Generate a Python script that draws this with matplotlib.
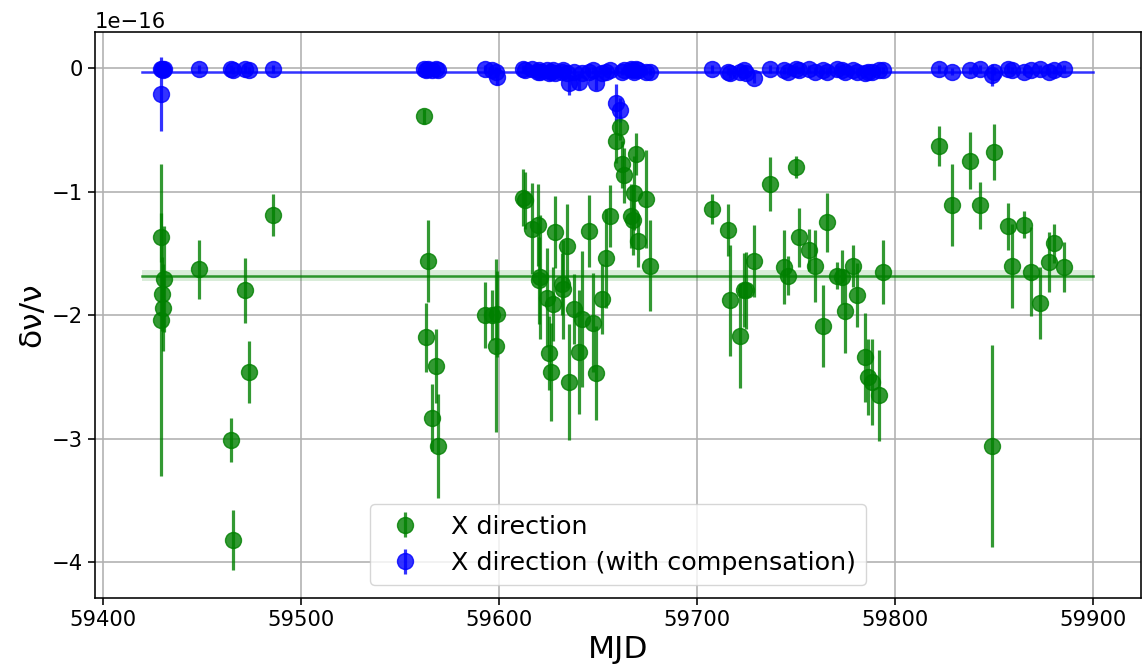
import numpy as np
import matplotlib
matplotlib.use("Agg")
import matplotlib.pyplot as plt

# MJD of each measurement (shared by both series)
mjd = [59429.2, 59429.2, 59430.0, 59430.2, 59430.8, 59448.8, 59465.0, 59466.0,
       59471.8, 59473.8, 59486.0,
       59562.2, 59563.3, 59564.2, 59566.2, 59568.3, 59569.2,
       59593.0, 59596.7, 59598.3, 59599.2,
       59612.2, 59613.3, 59616.7, 59619.5, 59620.0, 59620.8, 59624.2, 59625.2,
       59626.2, 59627.2, 59628.3, 59631.7, 59632.2, 59634.2, 59635.2, 59638.0,
       59640.2, 59641.7, 59645.2, 59647.5, 59649.2, 59652.2, 59654.2, 59656.2,
       59659.2, 59661.2, 59662.2, 59663.2, 59666.7, 59667.5, 59668.2, 59669.2,
       59670.0, 59674.2, 59676.2,
       59707.7, 59715.5, 59716.7, 59721.7, 59723.5, 59724.7, 59728.8, 59736.8,
       59743.8, 59745.8, 59749.7, 59751.7, 59756.7, 59759.7, 59763.8, 59765.8,
       59770.8, 59773.0, 59774.7, 59778.8, 59780.5, 59784.7, 59786.3, 59788.3,
       59791.7, 59793.8,
       59822.0, 59828.8, 59837.8, 59842.8, 59848.8, 59850.0, 59857.0, 59858.8,
       59865.0, 59868.8, 59873.0, 59877.8, 59880.0, 59885.0]

# X direction (units of 1e-16)
x_dir = [-1.37, -2.04, -1.83, -1.94, -1.71, -1.63, -3.01, -3.82,
         -1.80, -2.46, -1.19,
         -0.39, -2.18, -1.56, -2.83, -2.41, -3.06,
         -2.00, -2.00, -2.25, -1.99,
         -1.05, -1.07, -1.30, -1.27, -1.72, -1.69, -1.86, -2.31,
         -2.46, -1.91, -1.33, -1.75, -1.79, -1.44, -2.54, -1.95,
         -2.30, -2.03, -1.32, -2.06, -2.47, -1.87, -1.54, -1.20,
         -0.59, -0.48, -0.78, -0.87, -1.20, -1.23, -1.01, -0.70,
         -1.40, -1.06, -1.60,
         -1.14, -1.31, -1.88, -2.17, -1.80, -1.80, -1.56, -0.94,
         -1.61, -1.68, -0.80, -1.37, -1.47, -1.60, -2.09, -1.25,
         -1.68, -1.69, -1.97, -1.60, -1.84, -2.34, -2.50, -2.54,
         -2.65, -1.65,
         -0.63, -1.11, -0.75, -1.11, -3.06, -0.68, -1.28, -1.60,
         -1.27, -1.65, -1.90, -1.57, -1.42, -1.61]

x_err = [0.20, 1.26, 0.30, 0.35, 0.43, 0.24, 0.18, 0.24,
         0.26, 0.25, 0.17,
         0.06, 0.28, 0.33, 0.27, 0.30, 0.42,
         0.27, 0.20, 0.70, 0.35,
         0.23, 0.23, 0.37, 0.33, 0.35, 0.50, 0.40, 0.30,
         0.40, 0.30, 0.29, 0.25, 0.40, 0.34, 0.47, 0.28,
         0.50, 0.55, 0.29, 0.40, 0.38, 0.28, 0.40, 0.25,
         0.18, 0.10, 0.19, 0.22, 0.26, 0.28, 0.30, 0.17,
         0.21, 0.40, 0.37,
         0.12, 0.21, 0.45, 0.42, 0.30, 0.31, 0.29, 0.22,
         0.30, 0.16, 0.09, 0.24, 0.17, 0.29, 0.33, 0.24,
         0.11, 0.22, 0.34, 0.17, 0.26, 0.36, 0.31, 0.35,
         0.37, 0.26,
         0.16, 0.33, 0.23, 0.19, 0.82, 0.23, 0.19, 0.34,
         0.11, 0.36, 0.29, 0.24, 0.16, 0.20]

# X direction with compensation (units of 1e-16)
x_comp = [-0.01, -0.21, -0.01, -0.02, -0.01, -0.01, -0.01, -0.02,
          -0.01, -0.02, -0.01,
          -0.01, -0.02, -0.01, -0.02, -0.01, -0.02,
          -0.01, -0.02, -0.03, -0.07,
          -0.01, -0.02, -0.01, -0.03, -0.02, -0.03, -0.02, -0.04,
          -0.03, -0.02, -0.04, -0.03, -0.02, -0.04, -0.12, -0.03,
          -0.11, -0.04, -0.03, -0.02, -0.12, -0.04, -0.03, -0.02,
          -0.28, -0.34, -0.03, -0.02, -0.01, -0.02, -0.03, -0.01,
          -0.02, -0.03, -0.03,
          -0.01, -0.03, -0.04, -0.03, -0.02, -0.04, -0.08, -0.01,
          -0.02, -0.03, -0.01, -0.02, -0.01, -0.03, -0.02, -0.03,
          -0.01, -0.02, -0.03, -0.02, -0.03, -0.04, -0.03, -0.03,
          -0.02, -0.02,
          -0.01, -0.03, -0.02, -0.01, -0.06, -0.03, -0.01, -0.02,
          -0.03, -0.02, -0.01, -0.03, -0.02, -0.01]

comp_err = [0.03, 0.30, 0.03, 0.03, 0.03, 0.03, 0.03, 0.03,
            0.03, 0.03, 0.03,
            0.03, 0.03, 0.03, 0.03, 0.03, 0.03,
            0.03, 0.03, 0.04, 0.07,
            0.03, 0.03, 0.03, 0.03, 0.03, 0.04, 0.03, 0.04,
            0.03, 0.03, 0.04, 0.03, 0.03, 0.04, 0.10, 0.03,
            0.07, 0.04, 0.03, 0.03, 0.06, 0.04, 0.03, 0.03,
            0.15, 0.10, 0.03, 0.03, 0.03, 0.03, 0.03, 0.03,
            0.03, 0.03, 0.03,
            0.03, 0.03, 0.04, 0.03, 0.03, 0.04, 0.04, 0.03,
            0.03, 0.03, 0.03, 0.03, 0.03, 0.03, 0.03, 0.03,
            0.03, 0.03, 0.03, 0.03, 0.03, 0.04, 0.03, 0.03,
            0.03, 0.03,
            0.03, 0.03, 0.03, 0.03, 0.09, 0.03, 0.03, 0.03,
            0.03, 0.03, 0.03, 0.03, 0.03, 0.03]

mean_x = -1.68
mean_x_err = 0.045
mean_comp = -0.03

scale = 1e-16
mjd = np.array(mjd)
x_dir = np.array(x_dir) * scale
x_err = np.array(x_err) * scale
x_comp = np.array(x_comp) * scale
comp_err = np.array(comp_err) * scale

fig, ax = plt.subplots(figsize=(11.42, 6.69), dpi=100)
fig.subplots_adjust(left=0.083, right=0.999, top=0.952, bottom=0.106)

span = [59420, 59900]
ax.plot(span, [mean_x * scale] * 2, color="green", lw=1.8, alpha=0.8)
ax.fill_between(span, (mean_x - mean_x_err) * scale, (mean_x + mean_x_err) * scale,
                color="green", alpha=0.15, lw=0)
ax.plot(span, [mean_comp * scale] * 2, color="blue", lw=1.8, alpha=0.8)

ax.errorbar(mjd, x_dir, yerr=x_err, fmt="o", color="green", alpha=0.8,
            ms=11.5, elinewidth=2.3, label="X direction")
ax.errorbar(mjd, x_comp, yerr=comp_err, fmt="o", color="blue", alpha=0.8,
            ms=11.5, elinewidth=2.3, label="X direction (with compensation)")

ax.set_xlim(59396, 59924)
ax.set_ylim(-4.29e-16, 0.29e-16)
ax.grid(True, color="#b0b0b0", lw=1.15)
ax.set_axisbelow(True)
ax.tick_params(labelsize=15.2, width=1.15, length=5)
ax.yaxis.get_offset_text().set_fontsize(15.2)
for s in ax.spines.values():
    s.set_linewidth(1.15)

ax.set_xlabel("MJD", fontsize=22.5)
ax.set_ylabel("δν/ν", fontsize=22.5)
ax.legend(loc="lower center", fontsize=18.3)

fig.savefig("out.png", dpi=100)
